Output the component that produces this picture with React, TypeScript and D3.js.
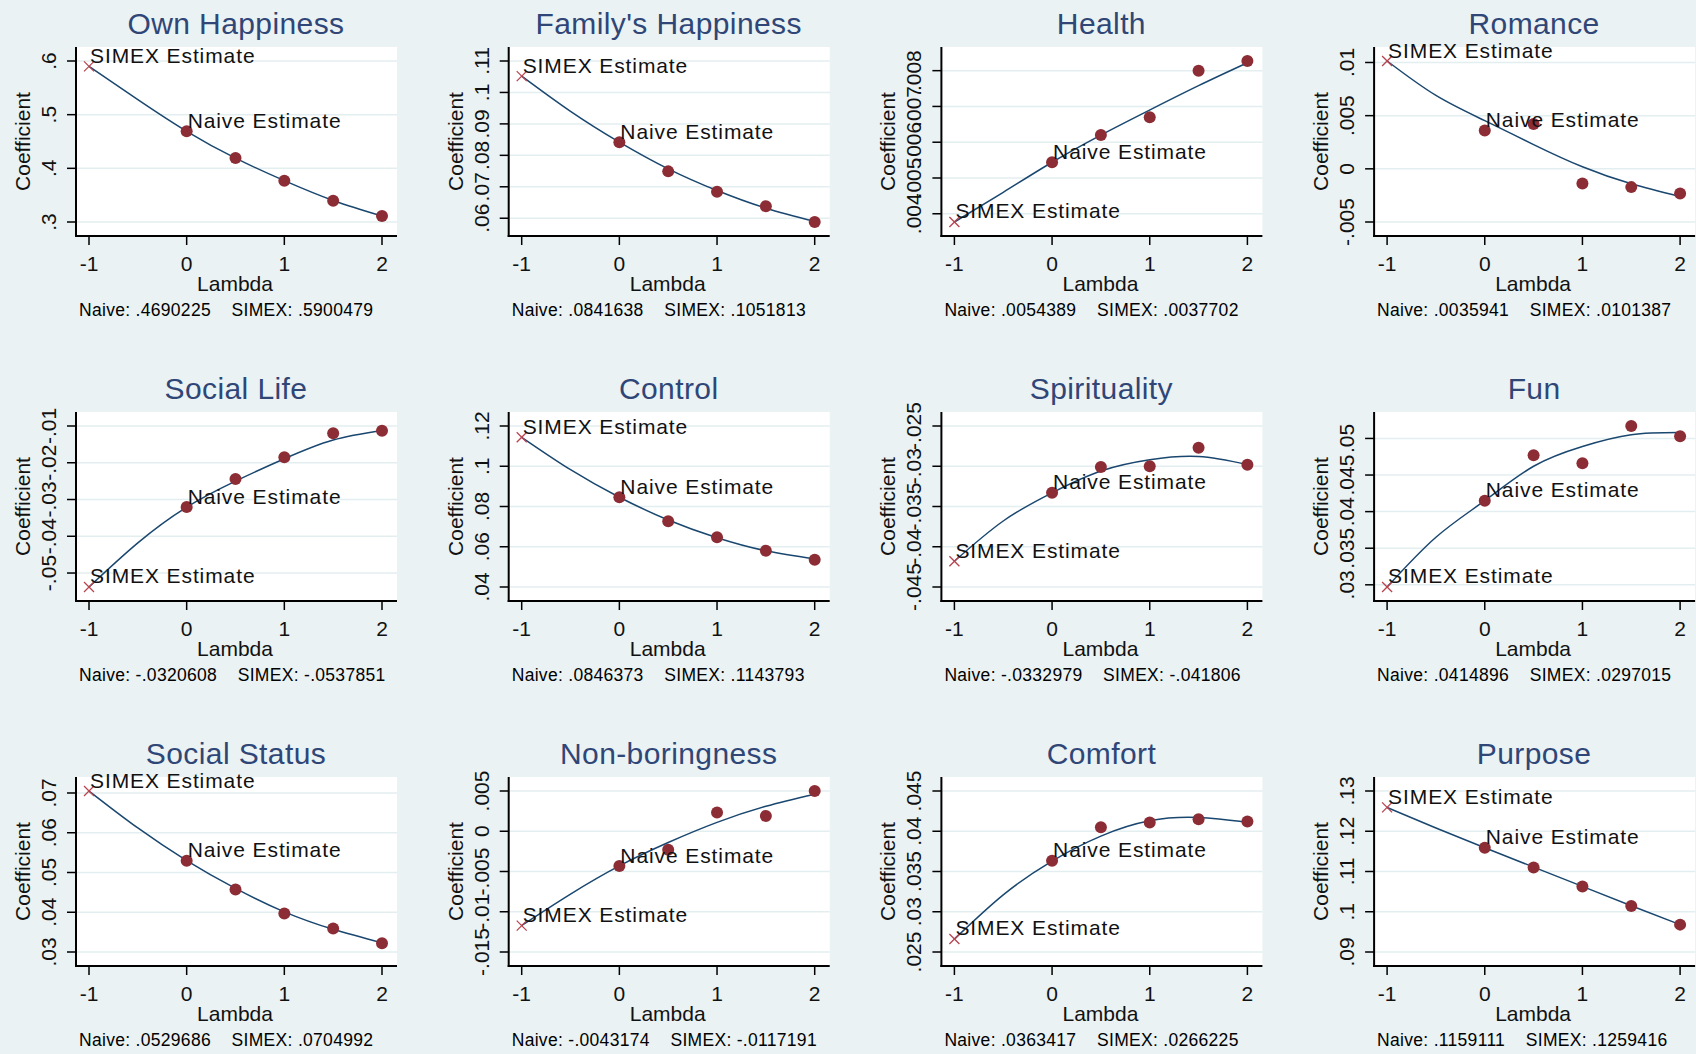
import React from 'react'
import * as d3 from 'd3'

// SIMEX extrapolation plots, one panel per life domain
const panelTitles = [
  'Own Happiness', "Family's Happiness", 'Health', 'Romance',
  'Social Life', 'Control', 'Spirituality', 'Fun',
  'Social Status', 'Non-boringness', 'Comfort', 'Purpose',
]

const naiveEstimates = [
  0.4690225, 0.0841638, 0.0054389, 0.0035941,
  -0.0320608, 0.0846373, -0.0332979, 0.0414896,
  0.0529686, -0.0043174, 0.0363417, 0.1159111,
]

const simexEstimates = [
  0.5900479, 0.1051813, 0.0037702, 0.0101387,
  -0.0537851, 0.1143793, -0.041806, 0.0297015,
  0.0704992, -0.0117191, 0.0266225, 0.1259416,
]

// simulated lambda values (points) and extrapolation curve lambdas
const lambdaPoints = [0, 0.5, 1, 1.5, 2]
const curveLambdas = [-1, -0.5, 0, 0.5, 1, 1.5, 2]
const xTicks = [-1, 0, 1, 2]

const pointValues = [
  [0.4690225, 0.4194, 0.3769, 0.3394, 0.3113],
  [0.0841638, 0.0749, 0.0684, 0.0638, 0.0588],
  [0.0054389, 0.0062, 0.0067, 0.008, 0.00827],
  [0.0035941, 0.00422, -0.00138, -0.00172, -0.00231],
  [-0.0320608, -0.0244, -0.0185, -0.012, -0.0113],
  [0.0846373, 0.0727, 0.0647, 0.058, 0.0535],
  [-0.0332979, -0.0301, -0.03, -0.0277, -0.0298],
  [0.0414896, 0.0477, 0.0466, 0.0517, 0.0503],
  [0.0529686, 0.0457, 0.0397, 0.0359, 0.0322],
  [-0.0043174, -0.0023, 0.00232, 0.0019, 0.005],
  [0.0363417, 0.0405, 0.0411, 0.0415, 0.0412],
  [0.1159111, 0.111, 0.1063, 0.1014, 0.0968],
]

const curveValues = [
  [0.59, 0.528, 0.469, 0.419, 0.377, 0.34, 0.311],
  [0.1052, 0.094, 0.0842, 0.0757, 0.0688, 0.0632, 0.059],
  [0.00377, 0.0046, 0.00544, 0.0062, 0.0069, 0.00758, 0.00822],
  [0.01014, 0.0069, 0.00453, 0.00228, 0.00019, -0.00141, -0.0026],
  [-0.0538, -0.0418, -0.0321, -0.025, -0.0189, -0.0138, -0.0112],
  [0.1144, 0.0983, 0.0846, 0.0733, 0.0645, 0.058, 0.054],
  [-0.0418, -0.0368, -0.0333, -0.0306, -0.0292, -0.0288, -0.0298],
  [0.0297, 0.0365, 0.0415, 0.0462, 0.0489, 0.0505, 0.0508],
  [0.0705, 0.0612, 0.053, 0.046, 0.0401, 0.0357, 0.0323],
  [-0.0117, -0.0078, -0.0043, -0.0014, 0.0011, 0.0031, 0.0046],
  [0.0266, 0.0321, 0.0363, 0.0394, 0.0413, 0.0417, 0.0411],
  [0.1259, 0.1208, 0.1159, 0.1111, 0.1063, 0.1015, 0.0968],
]

const yTicks = [
  [0.3, 0.4, 0.5, 0.6],
  [0.06, 0.07, 0.08, 0.09, 0.1, 0.11],
  [0.004, 0.005, 0.006, 0.007, 0.008],
  [-0.005, 0, 0.005, 0.01],
  [-0.05, -0.04, -0.03, -0.02, -0.01],
  [0.04, 0.06, 0.08, 0.1, 0.12],
  [-0.045, -0.04, -0.035, -0.03, -0.025],
  [0.03, 0.035, 0.04, 0.045, 0.05],
  [0.03, 0.04, 0.05, 0.06, 0.07],
  [-0.015, -0.01, -0.005, 0, 0.005],
  [0.025, 0.03, 0.035, 0.04, 0.045],
  [0.09, 0.1, 0.11, 0.12, 0.13],
]

const W = 1696
const H = 1054
const FONT = "'Liberation Sans', Arial, sans-serif"
const BG = '#EAF2F3'

// stata style: drop the leading zero
const fmt = (v: number) => (v === 0 ? '0' : String(v).replace(/^(-?)0\./, '$1.'))

const Panel = ({ i }: { i: number }) => {
  const col = i % 4
  const row = Math.floor(i / 4)
  const axisX = 76 + col * 432.7
  const top = 47 + row * 365
  const bottom = top + 189
  const right = axisX + 321

  const x = d3.scaleLinear().domain([-1, 2]).range([axisX + 13, axisX + 306])
  const ext = d3.extent([
    ...yTicks[i],
    ...pointValues[i],
    ...curveValues[i],
    simexEstimates[i],
  ]) as [number, number]
  const y = d3.scaleLinear().domain(ext).range([bottom - 14, top + 14])

  const line = d3
    .line<number>()
    .x((_, k) => x(curveLambdas[k]))
    .y((d) => y(d))
    .curve(d3.curveNatural)

  const sx = x(-1)
  const sy = y(simexEstimates[i])
  const nx = x(0)
  const ny = y(naiveEstimates[i])
  const mid = axisX + 160

  return (
    <g fontFamily={FONT}>
      <text x={mid} y={top - 13} textAnchor="middle" fontSize={30} fill="#2F4677" letterSpacing={0.4}>
        {panelTitles[i]}
      </text>
      <rect x={axisX} y={top} width={right - axisX} height={bottom - top} fill="#fff" />
      {yTicks[i].map((t) => (
        <line key={'g' + t} x1={axisX} x2={right} y1={y(t)} y2={y(t)} stroke="#E3EEF0" strokeWidth={1.5} />
      ))}
      <path d={line(curveValues[i]) || ''} fill="none" stroke="#1A476F" strokeWidth={1.5} />
      {pointValues[i].map((v, k) => (
        <circle key={k} cx={x(lambdaPoints[k])} cy={y(v)} r={6} fill="#8C2D36" />
      ))}
      <g stroke="#B8444F" strokeWidth={1.3}>
        <line x1={sx - 5} y1={sy - 5} x2={sx + 5} y2={sy + 5} />
        <line x1={sx - 5} y1={sy + 5} x2={sx + 5} y2={sy - 5} />
      </g>
      <text x={sx + 1} y={sy - 3.5} fontSize={21} letterSpacing={0.9} fill="#111">
        SIMEX Estimate
      </text>
      <text x={nx + 1} y={ny - 3.5} fontSize={21} letterSpacing={0.9} fill="#111">
        Naive Estimate
      </text>
      {/* axes */}
      <line x1={axisX} x2={axisX} y1={top} y2={bottom + 1} stroke="#000" strokeWidth={2} />
      <line x1={axisX - 1} x2={right} y1={bottom} y2={bottom} stroke="#000" strokeWidth={2} />
      {yTicks[i].map((t) => (
        <g key={'y' + t}>
          <line x1={axisX - 9} x2={axisX} y1={y(t)} y2={y(t)} stroke="#000" strokeWidth={1.5} />
          <text
            transform={`translate(${axisX - 20},${y(t)}) rotate(-90)`}
            textAnchor="middle"
            fontSize={21}
            fill="#111"
          >
            {fmt(t)}
          </text>
        </g>
      ))}
      {xTicks.map((t) => (
        <g key={'x' + t}>
          <line x1={x(t)} x2={x(t)} y1={bottom} y2={bottom + 9} stroke="#000" strokeWidth={1.5} />
          <text x={x(t)} y={bottom + 35} textAnchor="middle" fontSize={21} fill="#111">
            {t}
          </text>
        </g>
      ))}
      <text
        transform={`translate(${axisX - 46},${(top + bottom) / 2}) rotate(-90)`}
        textAnchor="middle"
        fontSize={21}
        fill="#111"
      >
        Coefficient
      </text>
      <text x={mid - 1} y={bottom + 55} textAnchor="middle" fontSize={21} fill="#111">
        Lambda
      </text>
      <text x={axisX + 3} y={bottom + 80} fontSize={17.5} fill="#000" letterSpacing={0.3} style={{ whiteSpace: 'pre' }}>
        {`Naive: ${fmt(naiveEstimates[i])}    SIMEX: ${fmt(simexEstimates[i])}`}
      </text>
    </g>
  )
}

const App = () => (
  <svg width={W} height={H} style={{ position: 'absolute', left: 0, top: 0, background: BG }}>
    <rect width={W} height={H} fill={BG} />
    {panelTitles.map((_, i) => (
      <Panel key={i} i={i} />
    ))}
  </svg>
)

export default App
